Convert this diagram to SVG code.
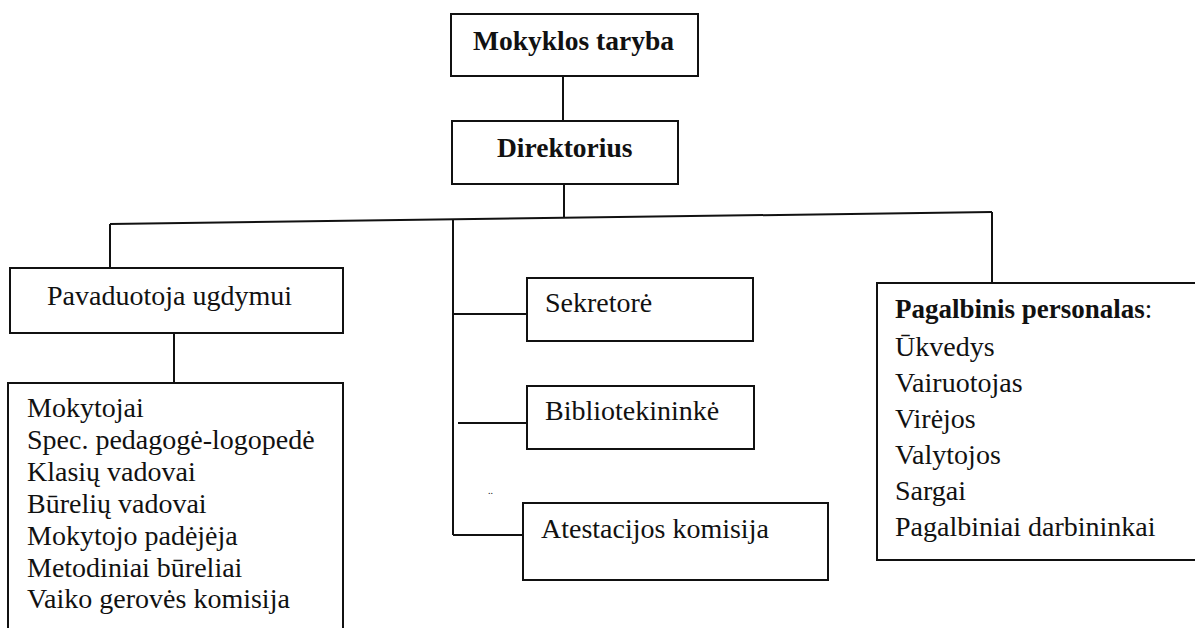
<svg xmlns="http://www.w3.org/2000/svg" width="1195" height="628" viewBox="0 0 1195 628">
<style>
  .box { fill: #ffffff; stroke: #111111; stroke-width: 2; }
  .ln { fill: none; stroke: #111111; stroke-width: 2; }
  text { font-family: "Liberation Serif", "Times New Roman", serif; fill: #111111; font-size: 28px; }
  .b { font-weight: bold; font-size: 27.5px; }
</style>
<rect width="1195" height="628" fill="#ffffff"/>
<g id="connectors">
  <line class="ln" x1="563" y1="76" x2="563" y2="121"/>
  <line class="ln" x1="564" y1="184" x2="564" y2="217"/>
  <line class="ln" x1="110" y1="224" x2="992" y2="212"/>
  <line class="ln" x1="110" y1="224" x2="110" y2="268"/>
  <line class="ln" x1="992" y1="212" x2="992" y2="283"/>
  <line class="ln" x1="453" y1="220" x2="453" y2="535"/>
  <line class="ln" x1="174" y1="333" x2="174" y2="383"/>
  <line class="ln" x1="453" y1="314" x2="527" y2="314"/>
  <line class="ln" x1="458" y1="423" x2="527" y2="423"/>
  <line class="ln" x1="453" y1="535" x2="523" y2="535"/>
</g>
<g id="mokyklos-taryba">
  <rect class="box" x="451" y="14" width="247" height="62"/>
  <text class="b" x="473" y="50">Mokyklos taryba</text>
</g>
<g id="direktorius">
  <rect class="box" x="452" y="121" width="226" height="63"/>
  <text class="b" x="497" y="157">Direktorius</text>
</g>
<g id="pavaduotoja">
  <rect class="box" x="10" y="268" width="333" height="65"/>
  <text x="47" y="305">Pavaduotoja ugdymui</text>
</g>
<g id="ugdymo-sarasas">
  <rect class="box" x="8" y="383" width="335" height="260"/>
  <text x="27" y="417">Mokytojai</text>
  <text x="27" y="449">Spec. pedagogė-logopedė</text>
  <text x="27" y="481">Klasių vadovai</text>
  <text x="27" y="513">Būrelių vadovai</text>
  <text x="27" y="545">Mokytojo padėjėja</text>
  <text x="27" y="577">Metodiniai būreliai</text>
  <text x="27" y="608">Vaiko gerovės komisija</text>
</g>
<g id="sekretore">
  <rect class="box" x="527" y="278" width="226" height="63"/>
  <text x="545" y="312">Sekretorė</text>
</g>
<g id="bibliotekininke">
  <rect class="box" x="527" y="386" width="227" height="63"/>
  <text x="545" y="420">Bibliotekininkė</text>
</g>
<g id="atestacijos-komisija">
  <rect class="box" x="523" y="503" width="305" height="77"/>
  <text x="541" y="538">Atestacijos komisija</text>
</g>
<text x="488" y="494" style="font-size:10px" fill="#555555">..</text>
<g id="pagalbinis-personalas">
  <rect class="box" x="877" y="283" width="330" height="277"/>
  <text x="895" y="318" style="font-size:27px"><tspan font-weight="bold">Pagalbinis personalas</tspan>:</text>
  <text x="895" y="356">Ūkvedys</text>
  <text x="895" y="392">Vairuotojas</text>
  <text x="895" y="428">Virėjos</text>
  <text x="895" y="464">Valytojos</text>
  <text x="895" y="500">Sargai</text>
  <text x="895" y="536">Pagalbiniai darbininkai</text>
</g>
</svg>
